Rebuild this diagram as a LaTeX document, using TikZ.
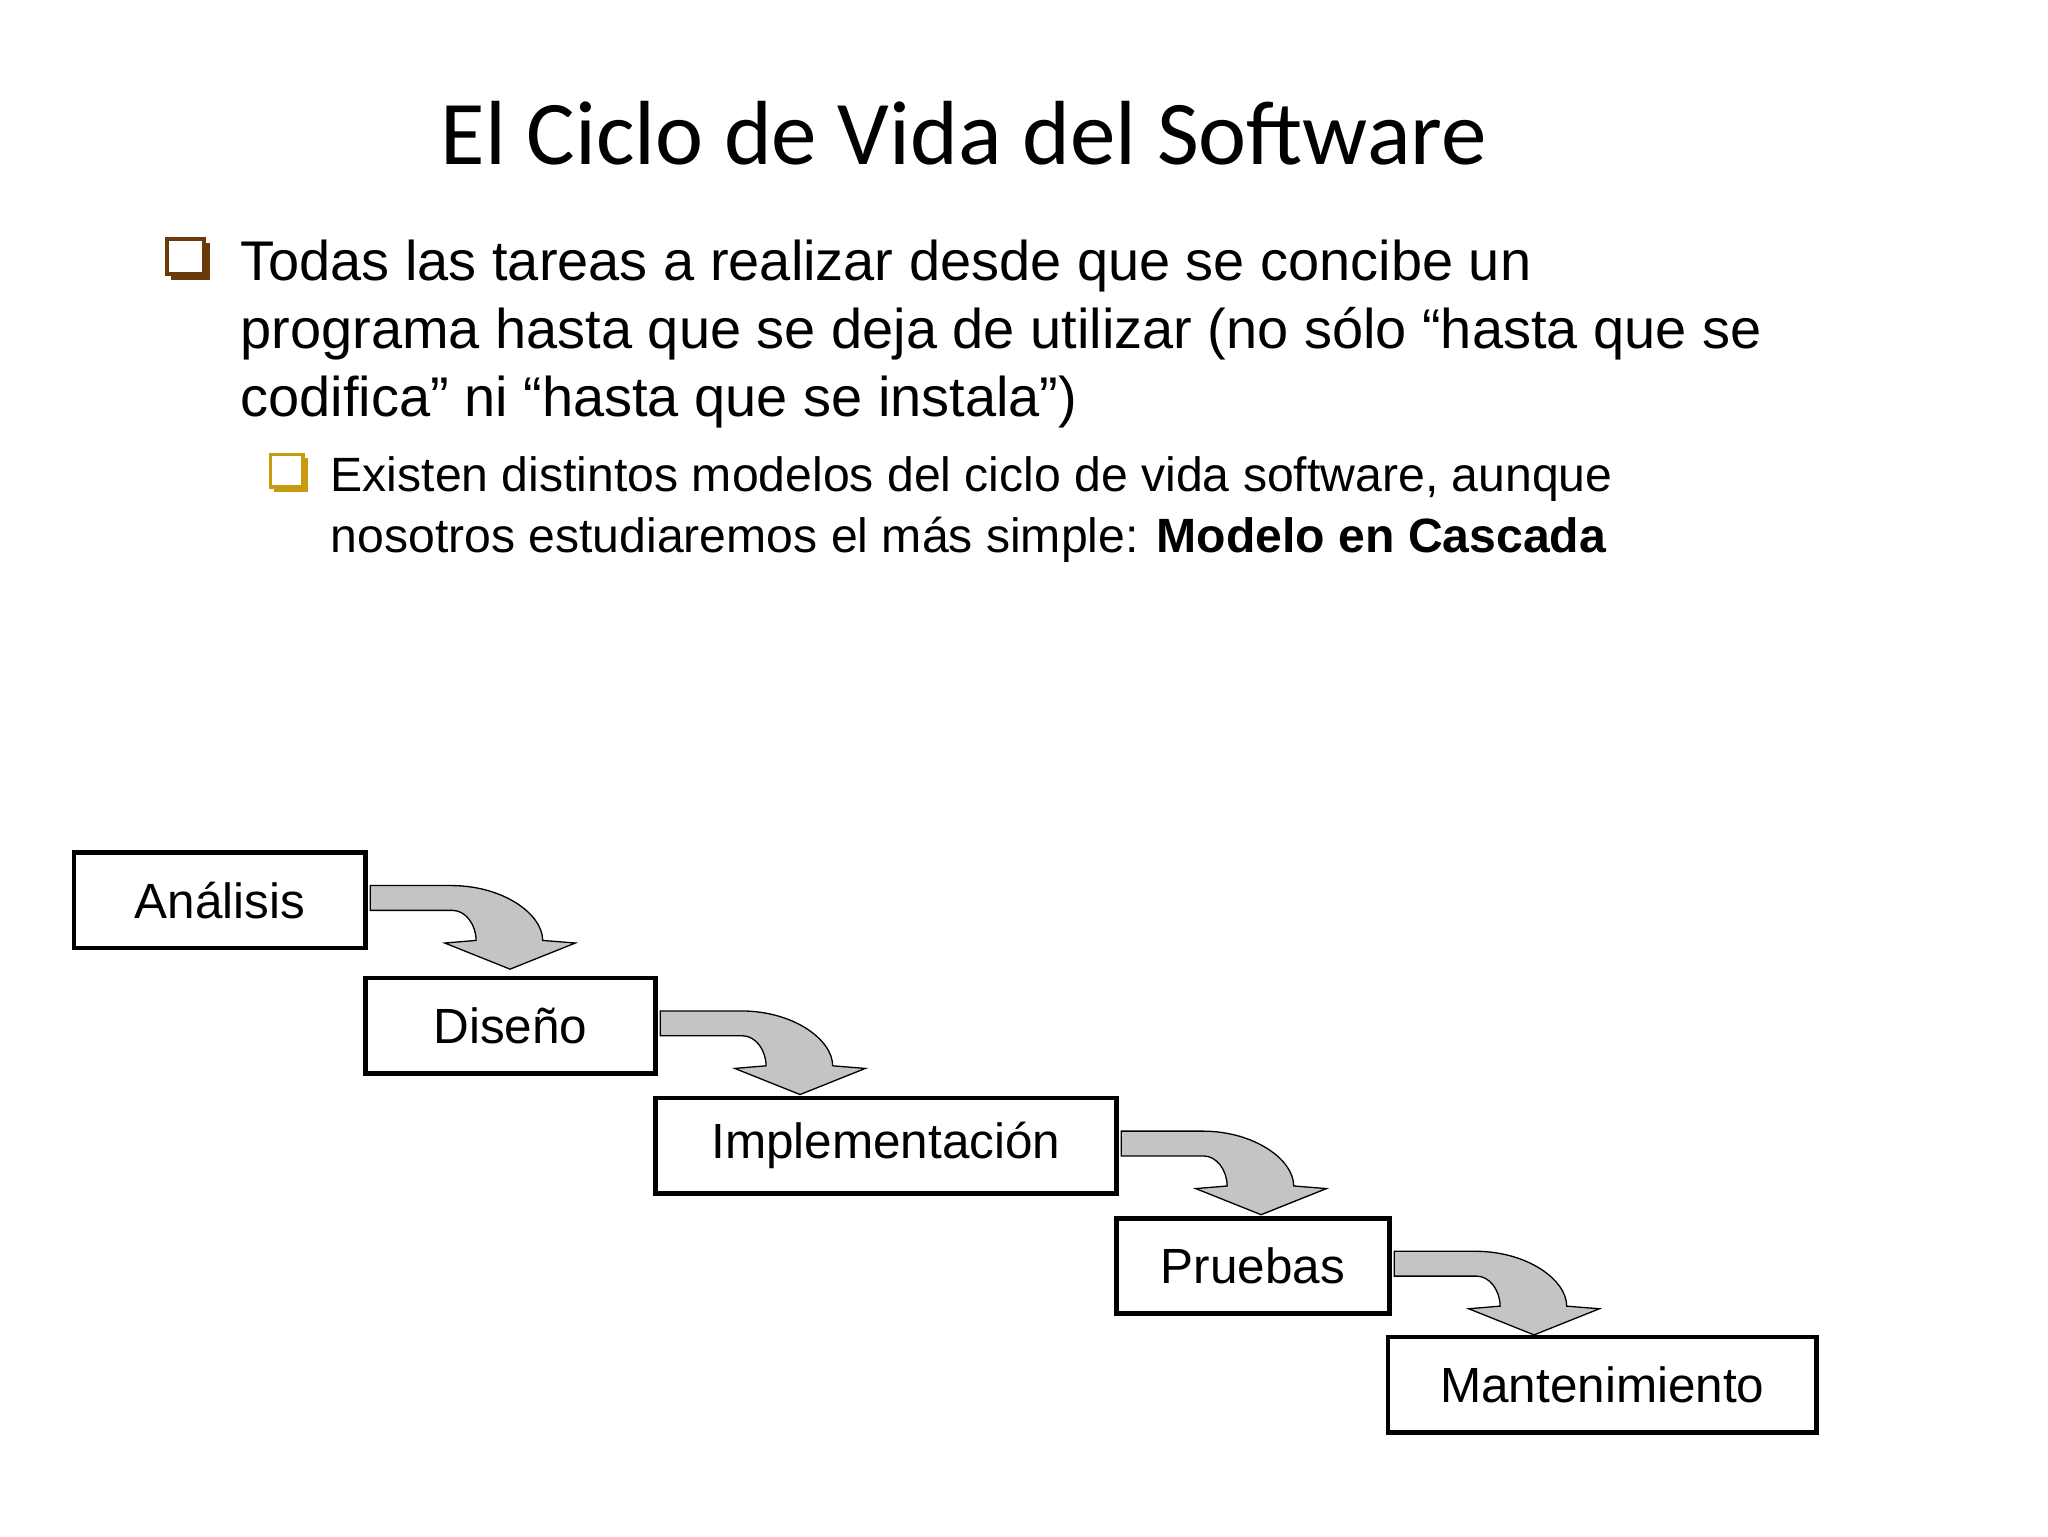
\documentclass[tikz,border=0pt]{standalone}
\usepackage{fontspec}
\setmainfont{Liberation Sans}
\newfontfamily\titlefont{Carlito}
\definecolor{bbrown}{HTML}{6B3A0A}
\definecolor{bgold}{HTML}{C89A10}
\definecolor{agray}{HTML}{C4C3C6}
\begin{document}
\begin{tikzpicture}[x=1bp,y=-1bp,
  stage/.style={draw=black,line width=3.5bp,minimum height=73bp,inner sep=0pt,font=\fontsize{38}{44}\selectfont,anchor=north west},
  txt/.style={anchor=base west,inner sep=0pt},
  flow/.style={fill=agray,draw=black,line width=1bp}]
\useasboundingbox (0,0) rectangle (1568,1176);
\node[font=\titlefont\fontsize{70}{80}\selectfont,inner sep=0pt] (title) at (738,102) {El Ciclo de Vida del Software};
% bullets
\fill[bbrown] (131,186) rectangle (161,214);
\fill[white] (128,183) rectangle (156,210);
\draw[bbrown,line width=3bp] (128,183) rectangle (156,210);
\fill[bgold] (210,351) rectangle (236,377);
\fill[white] (207,348) rectangle (232,373);
\draw[bgold,line width=2.8bp] (207,348) rectangle (232,373);
\begin{scope}[font=\fontsize{43}{52}\selectfont]
\node[txt] (l1) at (184,215) {Todas las tareas a realizar desde que se concibe un};
\node[txt] (l2) at (184,267) {programa hasta que se deja de utilizar (no sólo “hasta que se};
\node[txt] (l3) at (184,319) {codifica” ni “hasta que se instala”)};
\end{scope}
\begin{scope}[font=\fontsize{37}{46}\selectfont]
\node[txt] (s1) at (253,376) {Existen distintos modelos del ciclo de vida software, aunque};
\node[txt] (s2) at (253,423) {nosotros estudiaremos el más simple: \textbf{Modelo en Cascada}};
\end{scope}
% stages
\node[stage,minimum width=223bp] (a) at (55,651) {Análisis};
\node[stage,minimum width=222bp] (d) at (278,747) {Diseño};
\node[stage,minimum width=353bp] (i) at (500,839) {Implementación};
\node[stage,minimum width=209bp] (p) at (853,931) {Pruebas};
\node[stage,minimum width=328bp] (m) at (1061,1022) {Mantenimiento};
\foreach \n in {a,d,i,p}{
  \draw[flow] ([shift={(2,27)}]\n.north east) -- ++(62,0)
     .. controls +(40,0) and +(0,-20) .. ++(70,42)
     -- ++(25,2) -- ++(-50,20) -- ++(-50,-20) -- ++(24,-2)
     .. controls +(0,-12) and +(10,0) .. ++(-18,-23)
     -- ([shift={(2,46)}]\n.north east) -- cycle;
}
\end{tikzpicture}
\end{document}
